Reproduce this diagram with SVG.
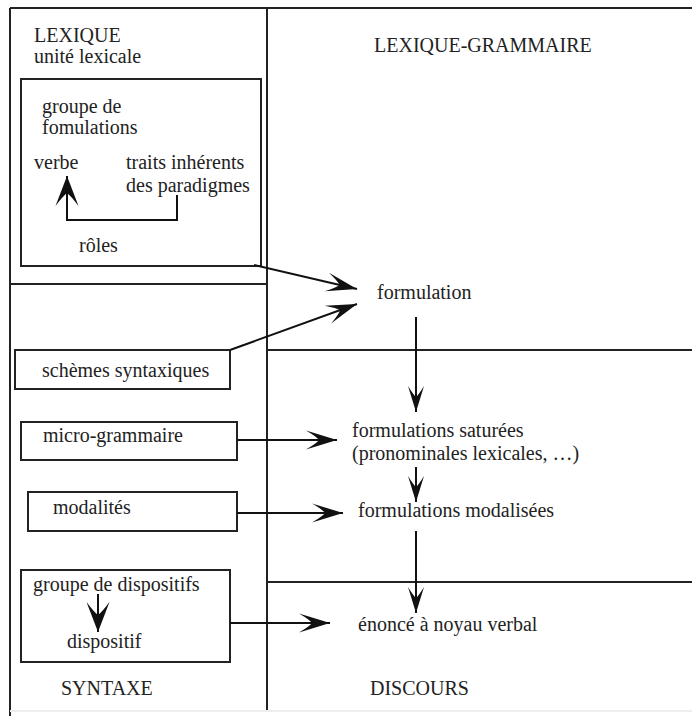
<svg xmlns="http://www.w3.org/2000/svg" width="692" height="716" viewBox="0 0 692 716">
  <style>
    text { font-family: "Liberation Serif", "LiberationSerif", "Liberation Serif Regular", "DejaVu Serif", "Noto Serif", FreeSerif, Tinos, Georgia, "Times New Roman", Times, serif; font-size: 20px; fill: #222; }
    .frame { stroke: #222; stroke-width: 2; fill: none; }
    .box { stroke: #222; stroke-width: 2; fill: none; }
    .conn { stroke: #111; stroke-width: 2; fill: none; }
  </style>
  <defs>
    <!-- barbed arrowhead, long form for the horizontal/diagonal links -->
    <marker id="arrowL" markerUnits="userSpaceOnUse" markerWidth="34" markerHeight="22" viewBox="-32 -11 34 22" refX="0" refY="0" orient="auto">
      <path d="M0,0 L-31,-9.5 Q-20,-3 -18,0 Q-20,3 -31,9.5 Z" fill="#111"/>
    </marker>
    <!-- smaller barbed arrowhead for the vertical chain -->
    <marker id="arrowS" markerUnits="userSpaceOnUse" markerWidth="30" markerHeight="20" viewBox="-28 -10 30 20" refX="0" refY="0" orient="auto">
      <path d="M0,0 L-26,-8 Q-17,-2.5 -15,0 Q-17,2.5 -26,8 Z" fill="#111"/>
    </marker>
    <!-- fat arrowhead used inside the left boxes -->
    <marker id="arrowF" markerUnits="userSpaceOnUse" markerWidth="34" markerHeight="26" viewBox="-32 -13 34 26" refX="0" refY="0" orient="auto">
      <path d="M0,0 L-30,-11.5 Q-20,-4 -17,0 Q-20,4 -30,11.5 Z" fill="#111"/>
    </marker>
  </defs>

  <!-- frame and zone dividers -->
  <g id="frame">
    <line class="frame" x1="10" y1="8" x2="692" y2="8"/>
    <line class="frame" x1="10" y1="8" x2="10" y2="716"/>
    <line class="frame" x1="267" y1="8" x2="267" y2="712"/>
    <line class="frame" x1="10" y1="284" x2="267" y2="284"/>
    <line class="frame" x1="267" y1="350" x2="692" y2="350"/>
    <line class="frame" x1="267" y1="582" x2="692" y2="582"/>
    <line x1="10" y1="711" x2="692" y2="711" stroke="#eee" stroke-width="2"/>
  </g>

  <!-- zone titles -->
  <g id="zone-lexique">
    <text x="34" y="42">LEXIQUE</text>
    <text x="34" y="63">unité lexicale</text>
  </g>
  <g id="zone-lexique-grammaire">
    <text x="374" y="52">LEXIQUE-GRAMMAIRE</text>
  </g>
  <g id="zone-syntaxe">
    <text x="61" y="695">SYNTAXE</text>
  </g>
  <g id="zone-discours">
    <text x="370" y="695">DISCOURS</text>
  </g>

  <!-- left column boxes -->
  <g id="groupe-formulations">
    <rect class="box" x="21" y="79" width="240" height="187"/>
    <text x="42" y="113">groupe de</text>
    <text x="42" y="134">fomulations</text>
    <text x="34" y="169">verbe</text>
    <text x="126" y="169">traits inhérents</text>
    <text x="126" y="192">des paradigmes</text>
    <text x="79" y="252">rôles</text>
  </g>
  <g id="schemes-syntaxiques">
    <rect class="box" x="15" y="350" width="215" height="39"/>
    <text x="42" y="377">schèmes syntaxiques</text>
  </g>
  <g id="micro-grammaire">
    <rect class="box" x="21" y="422" width="216" height="38"/>
    <text x="43" y="442">micro-grammaire</text>
  </g>
  <g id="modalites">
    <rect class="box" x="28" y="492" width="209" height="39"/>
    <text x="53" y="514">modalités</text>
  </g>
  <g id="groupe-dispositifs">
    <rect class="box" x="21" y="570" width="209" height="92"/>
    <text x="33" y="591">groupe de dispositifs</text>
    <text x="67" y="648">dispositif</text>
  </g>

  <!-- right column nodes -->
  <g id="formulation">
    <text x="377" y="299">formulation</text>
  </g>
  <g id="formulations-saturees">
    <text x="352" y="437">formulations saturées</text>
    <text x="352" y="460">(pronominales lexicales, …)</text>
  </g>
  <g id="formulations-modalisees">
    <text x="358" y="517">formulations modalisées</text>
  </g>
  <g id="enonce">
    <text x="358" y="631">énoncé à noyau verbal</text>
  </g>

  <!-- connectors -->
  <g id="connectors">
    <path class="conn" d="M177,195 V220 H67 V176" marker-end="url(#arrowF)"/>
    <line class="conn" x1="98" y1="594" x2="98" y2="632" marker-end="url(#arrowF)"/>
    <line class="conn" x1="254" y1="265" x2="357" y2="289" marker-end="url(#arrowL)"/>
    <line class="conn" x1="230" y1="350" x2="357" y2="304" marker-end="url(#arrowL)"/>
    <line class="conn" x1="237" y1="440" x2="337" y2="440" marker-end="url(#arrowL)"/>
    <line class="conn" x1="237" y1="513" x2="343" y2="513" marker-end="url(#arrowL)"/>
    <line class="conn" x1="230" y1="623" x2="330" y2="623" marker-end="url(#arrowL)"/>
    <line class="conn" x1="416" y1="317" x2="416" y2="412" marker-end="url(#arrowS)"/>
    <line class="conn" x1="416" y1="467" x2="416" y2="502" marker-end="url(#arrowS)"/>
    <line class="conn" x1="416" y1="531" x2="416" y2="613" marker-end="url(#arrowS)"/>
  </g>
</svg>
